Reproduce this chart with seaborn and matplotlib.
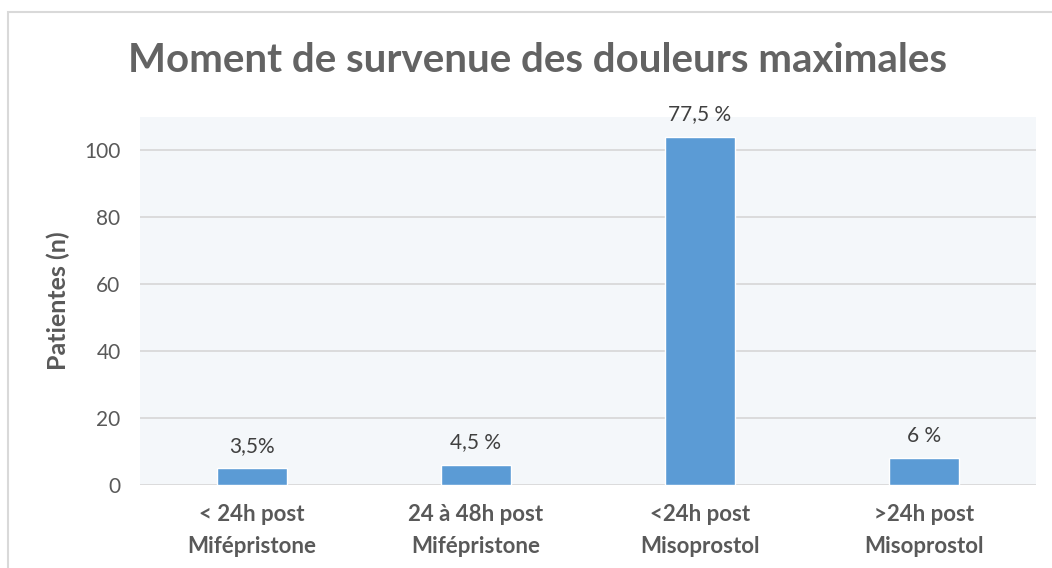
import matplotlib
matplotlib.use("Agg")
import matplotlib.pyplot as plt
import seaborn as sns
import pandas as pd
from matplotlib.patches import Rectangle

categories = ["< 24h post\nMifépristone", "24 à 48h post\nMifépristone",
              "<24h post\nMisoprostol", ">24h post\nMisoprostol"]
patientes = [5, 6, 104, 8]
pct_labels = ["3,5%", "4,5 %", "77,5 %", "6 %"]

sns.set_theme(style="white")
plt.rcParams['font.family'] = ['Lato', 'DejaVu Sans']

df = pd.DataFrame({'cat': categories, 'n': patientes})

fig = plt.figure(figsize=(10.52, 5.68), dpi=100)
ax = fig.add_axes([140/1052, 1-485/568, 896/1052, 368/568])
ax.set_facecolor('#f4f7fa')

sns.barplot(data=df, x='cat', y='n', color='#5b9bd5', width=0.31, ax=ax, saturation=1)

ax.set_ylim(0, 110)
ax.set_yticks([0, 20, 40, 60, 80, 100])
ax.grid(axis='y', color='#d9d9d9', linewidth=1.3)
ax.set_axisbelow(True)
for s in ax.spines.values():
    s.set_visible(False)

ax.tick_params(axis='y', labelsize=15, labelcolor='#595959', length=0, pad=14)
ax.tick_params(axis='x', labelsize=16, labelcolor='#595959', length=0, pad=14)
for lab in ax.get_xticklabels():
    lab.set_fontweight('bold')
    lab.set_linespacing(1.6)
ax.set_xlabel('')
ax.set_ylabel('Patientes (n)', fontsize=18, fontweight='bold', color='#595959', labelpad=10)

for i, (v, t) in enumerate(zip(patientes, pct_labels)):
    ax.annotate(t, (i, v), xytext=(0, 9), textcoords='offset points',
                ha='center', va='bottom', fontsize=15, color='#404040')

fig.text(537/1052, 1-60/568, 'Moment de survenue des douleurs maximales',
         ha='center', va='center', fontsize=29, fontweight='bold', color='#636363')

fig.patches.append(Rectangle((8/1052, -0.1), 1.1, 1-12/568+0.1, transform=fig.transFigure,
                             fill=False, edgecolor='#d9d9d9', linewidth=1.5))

fig.savefig('out.png', dpi=100)
